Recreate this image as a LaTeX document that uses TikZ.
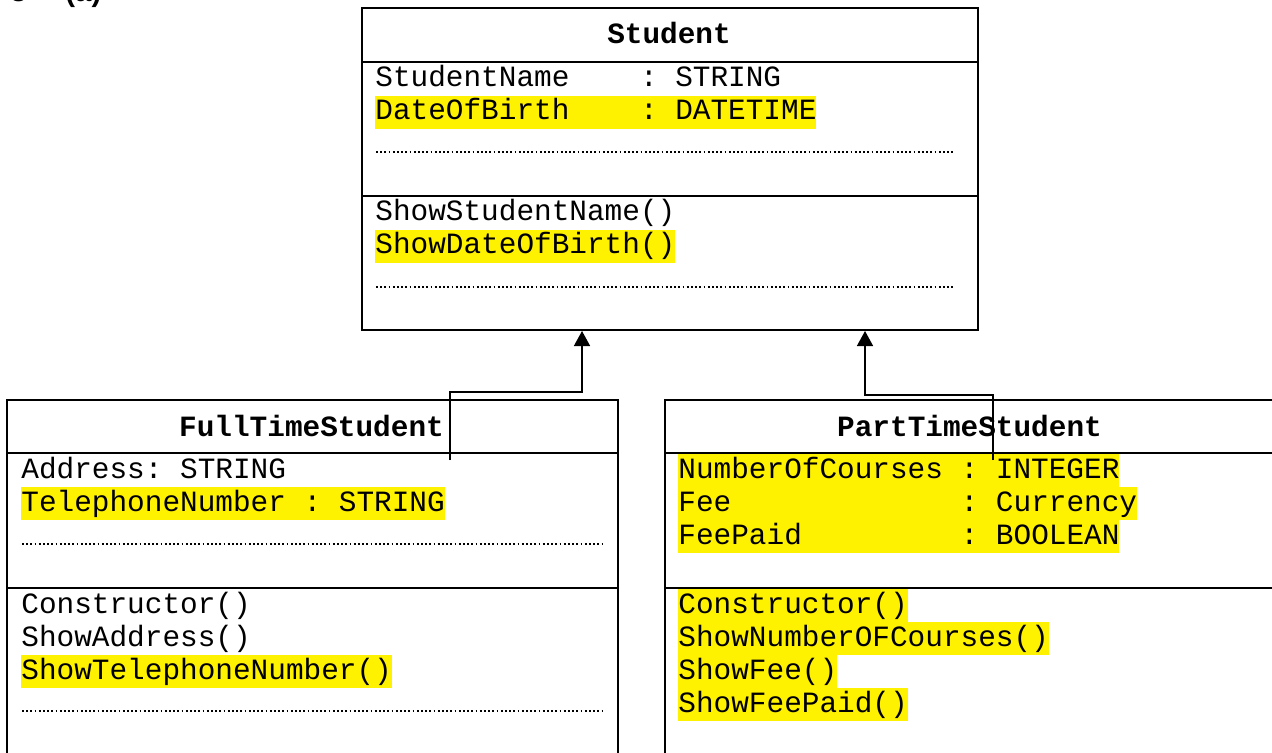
\documentclass[tikz,border=0pt]{standalone}
\usepackage{fontspec}
\setmainfont{Liberation Sans}
\newfontfamily\codefont{Liberation Mono}
\usetikzlibrary{arrows.meta, positioning}

\tikzset{
  classbox/.style={draw, line width=1pt, inner sep=0pt, anchor=north west},
  member/.style={font=\codefont\fontsize{14.7pt}{16.5pt}\selectfont, anchor=base west,
                 inner sep=0pt, text height=12pt, text depth=4.5pt},
  marked/.style={member, fill=yellow},
  classname/.style={font=\codefont\bfseries\fontsize{14.7pt}{16.5pt}\selectfont, inner sep=0pt},
  divider/.style={line width=1pt},
  dotrow/.style={line width=0.9pt, dash pattern=on 0.9pt off 1.2pt},
  inherit/.style={line width=0.7pt, -{Triangle[width=8pt,length=7.5pt]}},
  heading/.style={font=\bfseries\fontsize{14.7pt}{17pt}\selectfont, anchor=base west, inner sep=0pt}
}

\begin{document}
\begin{tikzpicture}[x=0.5pt, y=-0.5pt]
    \useasboundingbox (0,0) rectangle (1272,753);

    % question number, cut at the top
    \node[heading] (qnum)  at (10,2) {3};
    \node[heading] (qpart) at (65,2) {(a)};

    % class boxes
    \node[classbox, minimum width=308pt, minimum height=161pt] (student) at (361,7) {};
    \node[classbox, minimum width=305.5pt, minimum height=200pt] (fulltime) at (6,399) {};
    \node[classbox, minimum width=305.5pt, minimum height=200pt] (parttime) at (664,399) {};

    \draw[divider] (361,62) -- (977,62);
    \draw[divider] (361,196) -- (977,196);
    \draw[divider] (6,453) -- (617,453);
    \draw[divider] (6,588) -- (617,588);
    \draw[divider] (664,453) -- (1275,453);
    \draw[divider] (664,588) -- (1275,588);

    % Student
    \node[classname] (studentTitle) at (669,33) {Student};
    \node[member] (sName)     at (375,87)  {StudentName~~~~:~STRING};
    \node[marked] (sDob)      at (375,120) {DateOfBirth~~~~:~DATETIME};
    \draw[dotrow] (376,152) -- (955,152);
    \node[member] (sShowName) at (375,221) {ShowStudentName()};
    \node[marked] (sShowDob)  at (375,254) {ShowDateOfBirth()};
    \draw[dotrow] (376,287) -- (955,287);

    % FullTimeStudent
    \node[classname] (fulltimeTitle) at (311.5,426) {FullTimeStudent};
    \node[member] (fAddr)     at (21,478) {Address:~STRING};
    \node[marked] (fTel)      at (21,511) {TelephoneNumber~:~STRING};
    \draw[dotrow] (22,544) -- (603,544);
    \node[member] (fCons)     at (21,613) {Constructor()};
    \node[member] (fShowAddr) at (21,646) {ShowAddress()};
    \node[marked] (fShowTel)  at (21,679) {ShowTelephoneNumber()};
    \draw[dotrow] (22,711) -- (603,711);

    % PartTimeStudent
    \node[classname] (parttimeTitle) at (969.5,426) {PartTimeStudent};
    \node[marked] (pCourses)  at (678,478) {NumberOfCourses~:~INTEGER};
    \node[marked] (pFee)      at (678,511) {Fee~~~~~~~~~~~~~:~Currency};
    \node[marked] (pPaid)     at (678,544) {FeePaid~~~~~~~~~:~BOOLEAN};
    \node[marked] (pCons)     at (678,613) {Constructor()};
    \node[marked] (pShowNum)  at (678,646) {ShowNumberOFCourses()};
    \node[marked] (pShowFee)  at (678,679) {ShowFee()};
    \node[marked] (pShowPaid) at (678,712) {ShowFeePaid()};

    % inheritance
    \coordinate (ftFoot) at (450,460);
    \coordinate (ptFoot) at (993,460);
    \draw[inherit] (ftFoot) -- ++(0,-68) -| ([xshift=-44pt]student.south);
    \draw[inherit] (ptFoot) -- ++(0,-65) -| ([xshift=97.5pt]student.south);
\end{tikzpicture}
\end{document}
